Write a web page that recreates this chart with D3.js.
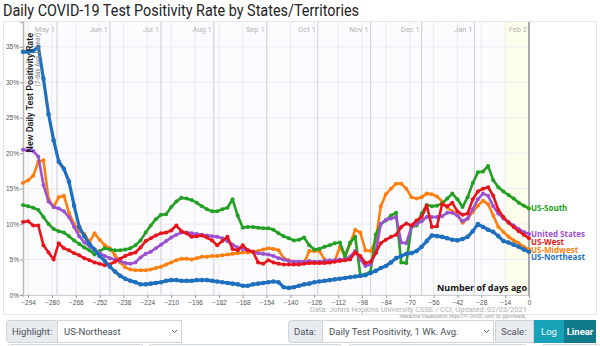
<!DOCTYPE html>
<html>
<head>
<meta charset="utf-8">
<script src="https://cdn.jsdelivr.net/npm/d3@7"></script>
<style>
  body { margin: 0; background: #fff; }
  svg { display: block; font-family: Roboto, "Open Sans", sans-serif; }
</style>
</head>
<body>
<div id="chart"></div>
<script>
// days before Feb 2, 2021, sampled every 3 days
const days = d3.range(-297, 1, 3);

const usSouth = [12.7,
  12.5, 12.3, 12.0, 11.0, 10.0, 9.3, 9.0, 8.8, 8.3, 7.7, 7.2,
  6.7, 6.3, 5.7, 6.2, 6.6, 6.4, 6.3, 6.3, 6.4, 6.6, 7.0,
  7.7, 8.8, 9.8, 10.7, 11.3, 11.4, 12.4, 13.2, 13.7, 13.6, 13.4,
  13.0, 12.5, 12.1, 11.8, 11.8, 12.1, 12.3, 13.5, 11.2, 9.5, 9.6,
  9.6, 9.5, 9.4, 9.4, 9.2, 8.7, 8.3, 8.0, 7.7, 7.8, 8.1,
  7.0, 6.4, 6.5, 6.8, 7.0, 7.3, 7.4, 5.5, 7.4, 8.2, 2.8,
  2.9, 3.3, 8.5, 10.0, 10.5, 11.2, 11.6, 4.6, 4.5, 9.6, 9.8,
  11.5, 12.7, 12.5, 12.6, 12.9, 13.6, 14.3, 13.5, 12.4, 13.8, 15.8,
  17.3, 17.4, 18.2, 16.2, 15.2, 14.6, 14.1, 13.6, 13.0, 12.6, 12.2];

const unitedStates = [20.5,
  20.4, 20.3, 19.5, 15.5, 13.2, 12.4, 12.2, 11.8, 11.0, 9.6, 8.3,
  7.4, 6.9, 6.3, 5.9, 5.5, 5.2, 5.0, 4.8, 4.5, 4.4, 4.6,
  5.3, 5.8, 6.1, 6.6, 7.1, 7.6, 8.1, 8.5, 8.8, 8.8, 8.7,
  8.6, 8.5, 8.4, 8.3, 8.2, 8.0, 7.6, 7.1, 6.7, 6.5, 6.3,
  6.1, 5.9, 5.8, 5.7, 5.5, 5.2, 5.0, 4.8, 4.7, 4.7, 4.7,
  4.8, 4.7, 4.7, 4.8, 4.9, 4.9, 5.0, 5.0, 5.4, 6.2, 5.0,
  4.1, 4.3, 6.0, 10.0, 10.6, 10.8, 11.0, 7.4, 7.3, 9.6, 10.0,
  10.4, 11.0, 11.0, 11.0, 11.1, 11.6, 11.6, 11.2, 10.4, 10.8, 12.1,
  13.5, 14.3, 14.0, 12.5, 11.5, 10.8, 10.3, 9.8, 9.3, 8.9, 8.6];

const usWest = [10.3,
  10.4, 9.8, 9.8, 7.0, 6.0, 5.0, 7.3, 6.6, 6.3, 5.9, 5.6,
  5.2, 4.9, 4.6, 4.4, 4.2, 4.3, 4.7, 5.1, 5.5, 5.8, 6.0,
  6.7, 7.6, 8.0, 8.4, 8.7, 8.8, 9.1, 9.8, 9.0, 8.7, 8.2,
  8.3, 8.4, 8.1, 7.7, 7.0, 7.6, 8.2, 6.5, 6.3, 7.0, 6.3,
  6.1, 4.6, 4.4, 4.9, 4.6, 4.4, 4.3, 4.3, 4.3, 4.3, 4.4,
  4.5, 4.5, 4.5, 4.5, 4.6, 4.7, 4.8, 4.9, 5.0, 6.0, 5.5,
  4.5, 4.7, 5.9, 7.3, 7.8, 8.2, 8.5, 9.6, 10.1, 9.8, 10.5,
  11.0, 12.6, 9.6, 9.7, 12.8, 12.5, 13.0, 11.8, 11.3, 11.5, 13.5,
  14.6, 15.0, 15.2, 14.0, 12.0, 11.0, 10.2, 9.6, 9.0, 8.5, 8.0];

const usMidwest = [15.8,
  16.2, 16.8, 18.8, 19.0, 13.5, 12.4, 13.8, 14.0, 11.6, 10.0, 9.0,
  8.6, 7.5, 8.7, 7.8, 7.0, 6.6, 5.6, 4.6, 3.9, 3.6, 3.5,
  3.5, 3.5, 3.6, 3.8, 4.0, 4.3, 4.6, 4.9, 5.1, 5.1, 5.0,
  5.2, 5.4, 5.4, 5.5, 5.5, 5.6, 5.7, 5.8, 5.9, 6.0, 6.0,
  6.1, 6.2, 6.4, 6.6, 6.5, 6.3, 5.2, 4.9, 4.7, 4.6, 4.5,
  6.2, 6.2, 6.2, 5.0, 4.6, 4.8, 6.8, 5.4, 7.2, 9.2, 8.8,
  6.3, 6.2, 7.7, 12.5, 14.2, 15.0, 15.7, 15.7, 15.0, 13.8, 13.6,
  13.8, 14.3, 14.2, 13.9, 13.2, 12.3, 11.8, 11.2, 10.2, 10.8, 11.7,
  12.6, 13.3, 12.8, 11.2, 9.6, 8.9, 8.2, 7.7, 7.3, 6.8, 6.4];

const usNortheast = [34.3,
  34.3, 34.4, 35.0, 30.5, 25.5, 21.8, 18.8, 17.8, 16.0, 12.6, 9.6,
  8.3, 7.2, 6.4, 5.5, 4.8, 4.0, 3.3, 2.7, 2.3, 2.0, 1.8,
  1.5, 1.5, 1.6, 1.7, 1.8, 2.0, 2.1, 2.1, 2.0, 2.0, 2.0,
  2.1, 2.1, 2.1, 2.0, 1.9, 1.8, 1.7, 1.6, 1.5, 1.3, 1.3,
  1.5, 1.6, 1.7, 1.8, 1.9, 1.8, 1.1, 1.0, 1.1, 1.3, 1.5,
  1.6, 1.8, 1.9, 2.0, 2.1, 2.2, 2.3, 2.4, 2.5, 2.6, 2.7,
  2.8, 3.1, 3.4, 3.8, 4.1, 4.6, 5.2, 5.5, 5.8, 5.9, 6.2,
  6.8, 7.6, 8.4, 8.3, 8.2, 8.0, 7.8, 7.7, 7.9, 8.2, 9.0,
  10.0, 9.6, 9.2, 8.9, 8.3, 7.6, 7.4, 7.1, 6.8, 6.4, 6.1];

const seriesNames = ['US-Midwest', 'US-South', 'United States', 'US-West', 'US-Northeast'];
const seriesValues = [usMidwest, usSouth, unitedStates, usWest, usNortheast];
const seriesColors = ['#ff7f0e', '#22a022', '#9b52d2', '#e8141b', '#1f6fbf'];
const highlighted = 'US-Northeast';

const monthLabels = ['May 1', 'Jun 1', 'Jul 1', 'Aug 1', 'Sep 1', 'Oct 1', 'Nov 1', 'Dec 1', 'Jan 1', 'Feb 2'];
const monthDays = [-277, -246, -216, -185, -154, -124, -93, -63, -32, 0];
const xTicks = d3.range(-294, 1, 14);
const yTicks = [0, 5, 10, 15, 20, 25, 30, 35];

const width = 600;
const height = 346;
const plot = { left: 23, right: 529, top: 22, bottom: 295 };

const svg = d3
  .select('#chart')
  .append('svg')
  .attr('width', width)
  .attr('height', height);

svg
  .append('text')
  .attr('x', 3)
  .attr('y', 16)
  .attr('font-size', 16.5)
  .attr('fill', '#222')
  .attr('textLength', 356)
  .attr('lengthAdjust', 'spacingAndGlyphs')
  .text('Daily COVID-19 Test Positivity Rate by States/Territories');

// outer frame
svg
  .append('rect')
  .attr('x', 3.5)
  .attr('y', 21.5)
  .attr('width', 593)
  .attr('height', 293)
  .attr('fill', 'none')
  .attr('stroke', '#e6e6e6');

const x = d3.scaleLinear().domain([-297, 0]).range([plot.left, plot.right]);
const y = d3.scaleLinear().domain([0, 38.5]).range([plot.bottom, plot.top]);

const g = svg.append('g');

g.append('rect')
  .attr('x', plot.left)
  .attr('y', plot.top)
  .attr('width', plot.right - plot.left)
  .attr('height', plot.bottom - plot.top)
  .attr('fill', '#fcfbfe');

// last two weeks shading
g.append('rect')
  .attr('x', x(-14))
  .attr('y', plot.top)
  .attr('width', x(0) - x(-14))
  .attr('height', plot.bottom - plot.top)
  .attr('fill', '#fdfdeb');

g.selectAll('.hgrid')
  .data(yTicks)
  .enter()
  .append('line')
  .attr('x1', plot.left)
  .attr('x2', plot.right)
  .attr('y1', (d) => y(d))
  .attr('y2', (d) => y(d))
  .attr('stroke', '#ebebf0');

g.selectAll('.vgrid')
  .data(xTicks)
  .enter()
  .append('line')
  .attr('x1', (d) => x(d))
  .attr('x2', (d) => x(d))
  .attr('y1', plot.top)
  .attr('y2', plot.bottom)
  .attr('stroke', '#ebebf0');

g.selectAll('.month')
  .data(monthDays)
  .enter()
  .append('line')
  .attr('x1', (d) => x(d))
  .attr('x2', (d) => x(d))
  .attr('y1', plot.top)
  .attr('y2', plot.bottom)
  .attr('stroke', (d) => (d === 0 ? '#a8a8a8' : '#d4d4da'))
  .attr('stroke-width', (d) => (d === 0 ? 2 : 1.2));

g.selectAll('.monthLabel')
  .data(monthDays)
  .enter()
  .append('text')
  .attr('x', (d) => x(d) - 2)
  .attr('y', 32)
  .attr('text-anchor', 'end')
  .attr('font-size', 7.5)
  .attr('fill', '#b4b4b4')
  .text((d, i) => monthLabels[i]);

// axes
const yAxis = g
  .append('g')
  .attr('transform', `translate(${plot.left},0)`)
  .call(d3.axisLeft(y).tickValues(yTicks).tickSize(3).tickFormat((d) => d + '%'));
yAxis.select('.domain').attr('stroke', '#b8b8b8').attr('stroke-width', 1.5);
yAxis.selectAll('.tick line').attr('stroke', '#999');
yAxis.selectAll('text').attr('font-size', 6.5).attr('fill', '#555').attr('x', -4);

const xAxis = g
  .append('g')
  .attr('transform', `translate(0,${plot.bottom})`)
  .call(d3.axisBottom(x).tickValues(xTicks).tickSize(3));
xAxis.select('.domain').attr('stroke', '#d0d0d0');
xAxis.selectAll('.tick line').attr('stroke', '#999');
xAxis.selectAll('text').attr('font-size', 6.5).attr('fill', '#555').attr('y', 5);

// y label
svg
  .append('text')
  .attr('transform', 'translate(33,33) rotate(-90)')
  .attr('text-anchor', 'end')
  .attr('font-size', 9)
  .attr('font-weight', 500)
  .attr('fill', '#111')
  .text('New Daily Test Positivity Rate');

svg
  .append('text')
  .attr('transform', 'translate(40,33) rotate(-90)')
  .attr('text-anchor', 'end')
  .attr('font-size', 6.5)
  .attr('fill', '#888')
  .text('(7-day Avg, Linear)');

const line = d3
  .line()
  .x((d, i) => x(days[i]))
  .y((d) => y(d));

seriesNames.forEach((name, k) => {
  const isHi = name === highlighted;
  const sg = g.append('g');
  sg.append('path')
    .datum(seriesValues[k])
    .attr('d', line)
    .attr('fill', 'none')
    .attr('stroke', seriesColors[k])
    .attr('stroke-width', isHi ? 3.2 : 2.6)
    .attr('stroke-linejoin', 'round');
  sg.selectAll('circle')
    .data(seriesValues[k])
    .enter()
    .append('circle')
    .attr('cx', (d, i) => x(days[i]))
    .attr('cy', (d) => y(d))
    .attr('r', isHi ? 2.3 : 2)
    .attr('fill', seriesColors[k]);
});

// end labels, nudged apart
const labels = seriesNames
  .map((name, k) => ({
    name,
    color: seriesColors[k],
    y: y(seriesValues[k][seriesValues[k].length - 1]),
  }))
  .sort((a, b) => a.y - b.y);
for (let i = 1; i < labels.length; i++) {
  if (labels[i].y - labels[i - 1].y < 7.5) labels[i].y = labels[i - 1].y + 7.5;
}

svg
  .selectAll('.endLabel')
  .data(labels)
  .enter()
  .append('text')
  .attr('x', plot.right + 2)
  .attr('y', (d) => d.y + 3)
  .attr('font-size', 8)
  .attr('font-weight', 'bold')
  .attr('font-family', '"Open Sans", sans-serif')
  .attr('fill', (d) => d.color)
  .text((d) => d.name);

svg
  .append('text')
  .attr('x', plot.right - 2)
  .attr('y', 291)
  .attr('text-anchor', 'end')
  .attr('font-size', 9)
  .attr('font-weight', 'bold')
  .attr('font-family', '"Open Sans", sans-serif')
  .attr('fill', '#111')
  .text('Number of days ago');

svg
  .append('text')
  .attr('x', plot.right - 2)
  .attr('y', 312)
  .attr('text-anchor', 'end')
  .attr('font-size', 7.5)
  .attr('fill', '#b0b0b0')
  .text('Data: Johns Hopkins University CSSE / CCI; Updated: 02/03/2021');

svg
  .append('text')
  .attr('x', plot.right - 2)
  .attr('y', 318)
  .attr('text-anchor', 'end')
  .attr('font-size', 4.5)
  .attr('fill', '#999')
  .text('Interactive Visualization: https://91-DIVOC.com/ by @profwade_');

// controls
const controls = [
  { label: 'Highlight:', value: 'US-Northeast', x0: 6, x1: 57, x2: 181 },
  { label: 'Data:', value: 'Daily Test Positivity, 1 Wk. Avg.', x0: 288, x1: 322, x2: 493 },
];
const cy0 = 320;
const ch = 22;

controls.forEach((c) => {
  svg.append('rect').attr('x', c.x0 + 0.5).attr('y', cy0 + 0.5).attr('width', c.x1 - c.x0).attr('height', ch)
    .attr('fill', '#e9ecef').attr('stroke', '#ced4da').attr('rx', 3);
  svg.append('rect').attr('x', c.x1 + 0.5).attr('y', cy0 + 0.5).attr('width', c.x2 - c.x1).attr('height', ch)
    .attr('fill', '#fff').attr('stroke', '#ced4da');
  svg.append('text').attr('x', c.x0 + 6).attr('y', cy0 + 15).attr('font-size', 9.5).attr('fill', '#495057').text(c.label);
  svg.append('text').attr('x', c.x1 + 7).attr('y', cy0 + 15).attr('font-size', 9.5).attr('fill', '#495057').text(c.value);
  svg.append('path')
    .attr('d', `M${c.x2 - 9},${cy0 + 10} l2.5,2.5 l2.5,-2.5`)
    .attr('fill', 'none').attr('stroke', '#555').attr('stroke-width', 1);
});

svg.append('rect').attr('x', 495.5).attr('y', cy0 + 0.5).attr('width', 38).attr('height', ch)
  .attr('fill', '#e9ecef').attr('stroke', '#ced4da');
svg.append('text').attr('x', 501).attr('y', cy0 + 15).attr('font-size', 9.5).attr('fill', '#495057').text('Scale:');
svg.append('rect').attr('x', 534).attr('y', cy0).attr('width', 30).attr('height', ch + 1).attr('fill', '#17a2b8');
svg.append('rect').attr('x', 564).attr('y', cy0).attr('width', 32).attr('height', ch + 1).attr('fill', '#117a8b');
svg.append('text').attr('x', 549).attr('y', cy0 + 15).attr('text-anchor', 'middle').attr('font-size', 9.5)
  .attr('fill', '#fff').text('Log');
svg.append('text').attr('x', 580).attr('y', cy0 + 15).attr('text-anchor', 'middle').attr('font-size', 9.5)
  .attr('font-weight', 'bold').attr('fill', '#fff').text('Linear');

// next row of controls, cut off by the frame
[[7, 143], [148, 341], [348, 526], [542, 600]].forEach(([a, b]) => {
  svg.append('rect').attr('x', a + 0.5).attr('y', 344.5).attr('width', b - a).attr('height', 20)
    .attr('fill', '#fff').attr('stroke', '#ced4da').attr('rx', 3);
});
</script>
</body>
</html>
